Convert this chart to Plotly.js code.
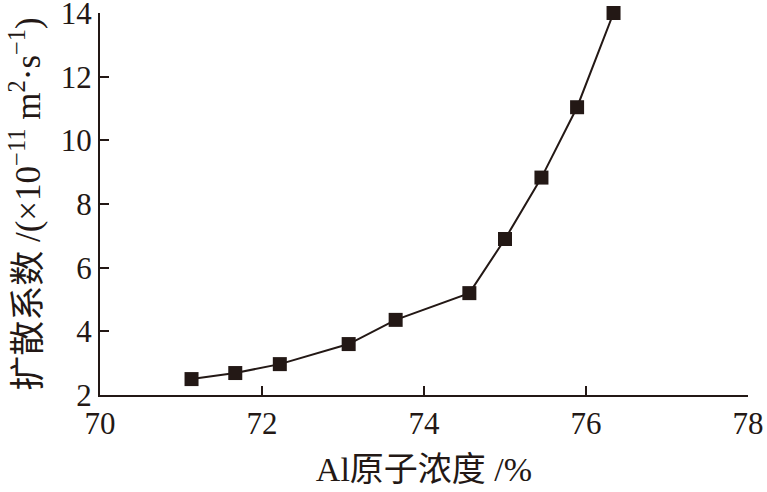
<!DOCTYPE html>
<html><head><meta charset="utf-8">
<script src="https://cdn.plot.ly/plotly-3.0.1.min.js"></script>
<style>html,body{margin:0;padding:0;background:#fff}</style>
</head><body>
<div id="chart" style="width:767px;height:492px"></div>
<script>
const alConcentration = [71.13, 71.67, 72.22, 73.07, 73.65, 74.56, 75.00, 75.45, 75.89, 76.34];
const diffusionCoef = [2.50, 2.69, 2.97, 3.60, 4.36, 5.20, 6.90, 8.83, 11.04, 14.0];
const xTickVals = [70, 72, 74, 76, 78];
const yTickVals = [2, 4, 6, 8, 10, 12, 14];

const ink = '#231815';
const fontFam = 'Liberation Serif, Noto Sans CJK SC, serif';

const trace = {
  x: alConcentration, y: diffusionCoef,
  type: 'scatter', mode: 'lines+markers',
  line: {color: ink, width: 2},
  marker: {symbol: 'square', size: 14, color: ink},
  cliponaxis: false,
  showlegend: false
};

const layout = {
  width: 767, height: 492,
  margin: {l: 100, r: 19, t: 13, b: 97},
  paper_bgcolor: '#fff', plot_bgcolor: '#fff',
  font: {family: fontFam, color: ink, size: 30},
  xaxis: {
    range: [70, 78], tickvals: xTickVals, ticks: 'inside', ticklen: 9, tickwidth: 2, tickcolor: ink,
    showline: true, linewidth: 2, linecolor: ink, showgrid: false, zeroline: false,
    tickfont: {size: 31, family: fontFam, color: ink}, ticklabeloverflow: 'allow',
    title: {text: 'Al原子浓度 /%', font: {size: 34, family: fontFam, color: ink}, standoff: 17}
  },
  yaxis: {
    range: [2, 14], tickvals: yTickVals, ticks: 'inside', ticklen: 9, tickwidth: 2, tickcolor: ink,
    showline: true, linewidth: 2, linecolor: ink, showgrid: false, zeroline: false,
    tickfont: {size: 31, family: fontFam, color: ink}, ticklabeloverflow: 'allow', ticksuffix: '\u00a0',
    title: {text: '扩散系数 /(×10<sup>−11</sup> m<sup>2</sup>·s<sup>−1</sup>)', font: {size: 35, family: fontFam, color: ink}, standoff: 10}
  }
};

Plotly.newPlot('chart', [trace], layout, {displayModeBar: false, staticPlot: true});
</script>
</body></html>
